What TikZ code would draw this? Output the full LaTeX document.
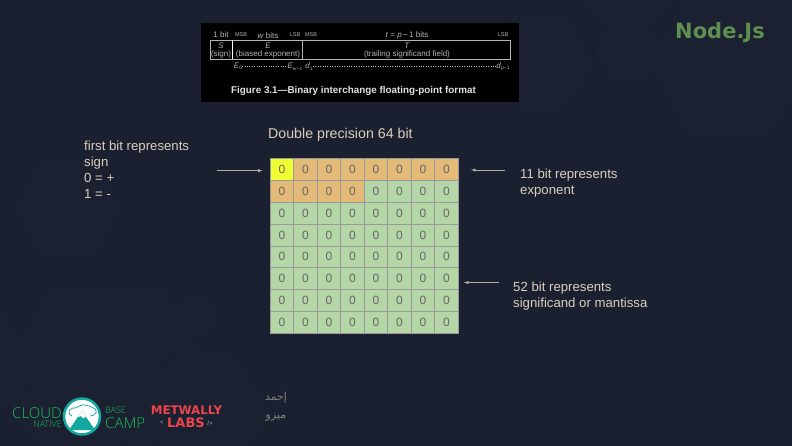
\documentclass[tikz,border=0pt]{standalone}
\usepackage{fontspec}
\setmainfont{Liberation Sans}
\newfontfamily\arabicfont[Script=Arabic]{DejaVu Sans}
\newfontfamily\logofont{DejaVu Sans}
\newfontfamily\thinfont{Open Sans Light}
\TeXXeTstate=1
\usetikzlibrary{arrows,shapes.geometric}
\definecolor{slidebg}{HTML}{1A2030}
\definecolor{hexbg}{HTML}{1B2131}
\definecolor{hexdark}{HTML}{181E2C}
\definecolor{labeltxt}{HTML}{DACFBC}
\definecolor{gridline}{HTML}{999999}
\definecolor{cellorange}{HTML}{E3BA78}
\definecolor{cellgreen}{HTML}{B5D6A7}
\definecolor{cellyellow}{HTML}{EEFF33}
\definecolor{nodegreen}{HTML}{5E8F50}
\definecolor{cloudgreen}{HTML}{16C060}
\definecolor{campteal}{HTML}{12A8A0}
\definecolor{labsred}{HTML}{EE444C}
\definecolor{figgray}{HTML}{B4B4B4}
\tikzset{
  hexa/.style={regular polygon,regular polygon sides=6,minimum size=#1,inner sep=0pt,fill=hexbg,
    draw=hexdark,line width=.8pt,rounded corners=4pt},
  cell/.style={draw=gridline,line width=.7pt,minimum width=23.5pt,minimum height=21.8pt,inner sep=0pt,
    text=black!60,font=\fontsize{12}{12}\selectfont},
  lbl/.style={text=labeltxt,align=left,anchor=north west,inner sep=0pt,font=\fontsize{13.2}{16}\selectfont},
  ptr/.style={->,>=latex,draw=labeltxt!85!black,line width=.5pt},
  fig/.style={text=figgray,inner sep=0pt,font=\fontsize{8}{8}\selectfont},
  figs/.style={text=figgray,inner sep=0pt,font=\fontsize{5.5}{5.5}\selectfont},
  logo/.style={inner sep=0pt,text=cloudgreen}
}
\begin{document}
\begin{tikzpicture}[x=1pt,y=-1pt]
    \useasboundingbox (0,0) rectangle (792,445);
    \fill[slidebg] (-3,-3) rectangle (795,448);
    % hexagons behind
    \begin{scope}
    \clip (0,0) rectangle (792,443);
    \node[hexa=112pt] (hA) at (628,-18) {};
    \node[hexa=72pt] (hD) at (628,50) {};
    \node[hexa=112pt] (hC) at (540,62) {};
    \node[hexa=168pt] (hB) at (730,64) {};
    \node[hexa=112pt] (hE) at (795,0) {};
    \node[hexa=112pt] (hF) at (68,208) {};
    \node[hexa=224pt] (hG) at (107,380) {};
    \node[hexa=48pt] (hH) at (197,314) {};
    \node[hexa=128pt] (hI) at (-30,360) {};
    \node[hexa=130pt] (hJ) at (83,405) {};
    \node[hexa=136pt] (hK) at (205,412) {};
    \end{scope}
    % figure from the standard
    \fill[black] (201,23) rectangle (519,102);
    \node[draw=figgray,line width=.7pt,minimum width=300pt,minimum height=19pt,inner sep=0pt] (fmt) at (360,49.5) {};
    \draw[white,line width=.8pt] (232.7,40) coordinate (d1a) -- (232.7,59) coordinate (d1b);
    \draw[figgray,line width=.7pt] (302.7,40) coordinate (d2a) -- (302.7,59) coordinate (d2b);
    \node[fig] (onebit) at (221,35) {1 bit};
    \node[figs] (msb1) at (241,35) {MSB};
    \node[fig] (wbits) at (268,35.5) {\textit{w} bits};
    \node[figs] (lsb1) at (295,35) {LSB};
    \node[figs] (msb2) at (311,35) {MSB};
    \node[fig] (tbits) at (407,35.5) {\textit{t} = \textit{p}\,−\,1 bits};
    \node[figs] (lsb2) at (503,35) {LSB};
    \node[fig] (s) at (221,45.5) {\textit{S}};
    \node[fig] (sign) at (221,54.5) {(sign)};
    \node[fig] (e) at (268,45.5) {\textit{E}};
    \node[fig] (bexp) at (268,54.5) {(biased exponent)};
    \node[fig] (t) at (407,45.5) {\textit{T}};
    \node[fig] (tsf) at (407,54.5) {(trailing significand field)};
    \node[fig] (e0) at (238,66.5) {\textit{E}\raisebox{-1.5pt}{\fontsize{5}{5}\selectfont 0}};
    \node[fig] (ew) at (295,66.5) {\textit{E}\raisebox{-1.5pt}{\fontsize{5}{5}\selectfont\textit{w}−1}};
    \node[fig] (d1) at (309,66.5) {\textit{d}\raisebox{-1.5pt}{\fontsize{5}{5}\selectfont 1}};
    \node[fig] (dp) at (503,66.5) {\textit{d}\raisebox{-1.5pt}{\fontsize{5}{5}\selectfont\textit{p}−1}};
    \draw[figgray,dotted,line width=.4pt] (e0) -- (ew);
    \draw[figgray,dotted,line width=.4pt] (d1) -- (dp);
    \node[fig,text=black!12!white,font=\bfseries\fontsize{9.85}{10}\selectfont] (cap) at (353.5,90.5) {Figure 3.1—Binary interchange floating-point format};
    % logo
    \node[inner sep=0pt,text=nodegreen,font=\logofont\bfseries\fontsize{21}{21}\selectfont] (nodejs) at (720,33) {Node.Js};
    \node[lbl,anchor=west,font=\fontsize{14.2}{14}\selectfont] (title) at (268,135) {Double precision 64 bit};
    % the 8x8 grid
    \foreach \r in {1,...,8}
      \foreach \c in {1,...,8} {
        \pgfmathtruncatemacro{\idx}{(\r-1)*8+\c}
        \ifnum\idx=1 \def\cellc{cellyellow}\else\ifnum\idx<13 \def\cellc{cellorange}\else\def\cellc{cellgreen}\fi\fi
        \node[cell,fill=\cellc] (c\r-\c) at ({281.9+(\c-1)*23.5},{169.6+(\r-1)*21.8}) {0};
      }
    \node[lbl] (signlbl) at (84,140.5) {first bit represents\\sign\\0 = +\\1 = -};
    \node[lbl] (explbl) at (520,169) {11 bit represents\\exponent};
    \node[lbl,font=\fontsize{13.2}{15.5}\selectfont] (manlbl) at (513,282) {52 bit represents\\significand or mantissa};
    \coordinate (a1) at (217,170.7);
    \coordinate (a2) at (262.5,170.7);
    \coordinate (b1) at (505,170);
    \coordinate (b2) at (471,170);
    \coordinate (m1) at (499,282.5);
    \coordinate (m2) at (464,282.5);
    \draw[ptr] (a1) -- (a2);
    \draw[ptr] (b1) -- (b2);
    \draw[ptr] (m1) -- (m2);
    % footer logos
    \node[logo,anchor=east,font=\thinfont\fontsize{15}{15}\selectfont] (cloud) at (62,413) {CLOUD};
    \node[logo,anchor=east,font=\thinfont\fontsize{9}{9}\selectfont] (native) at (62,424.5) {NATIVE};
    \node[circle,draw=campteal,line width=2.5pt,fill=white,minimum size=36pt,inner sep=0pt] (camp) at (82,416.5) {};
    \draw[campteal,line width=.7pt,rounded corners=2pt] (72,416) -- (68,413) -- (71,408) -- (77,408) -- (81,404.5) -- (90,406) -- (97,410) -- (95,415) -- (90,416);
    \fill[campteal] (69,430) -- (82,411) -- (95,430) -- cycle;
    \fill[white] (82,411) -- (78,417) -- (81,416) -- (83,418) -- (86,417) -- cycle;
    \node[logo,anchor=west,font=\thinfont\fontsize{9}{9}\selectfont] (base) at (105,410) {BASE};
    \node[logo,anchor=west,font=\thinfont\fontsize{15}{15}\selectfont] (campt) at (105,423) {CAMP};
    \node[logo,text=labsred,font=\logofont\bfseries\fontsize{11.8}{12}\selectfont] (met) at (186.5,410) {METWALLY};
    \node[logo,text=labsred,font=\logofont\bfseries\fontsize{13}{13}\selectfont] (labs) at (186,423) {LABS};
    \node[logo,text=black!30!white,font=\fontsize{6}{6}\selectfont] (ltag) at (162,423) {<};
    \node[logo,text=black!30!white,font=\fontsize{6}{6}\selectfont] (rtag) at (210,423) {/>};
    \node[logo,text=black!50!white,font=\arabicfont\fontsize{11}{11}\selectfont] (ar1) at (276,398) {\beginR إحمد\endR};
    \node[logo,text=black!50!white,font=\arabicfont\fontsize{11}{11}\selectfont] (ar2) at (276,417) {\beginR ميزو\endR};
  \end{tikzpicture}
\end{document}
